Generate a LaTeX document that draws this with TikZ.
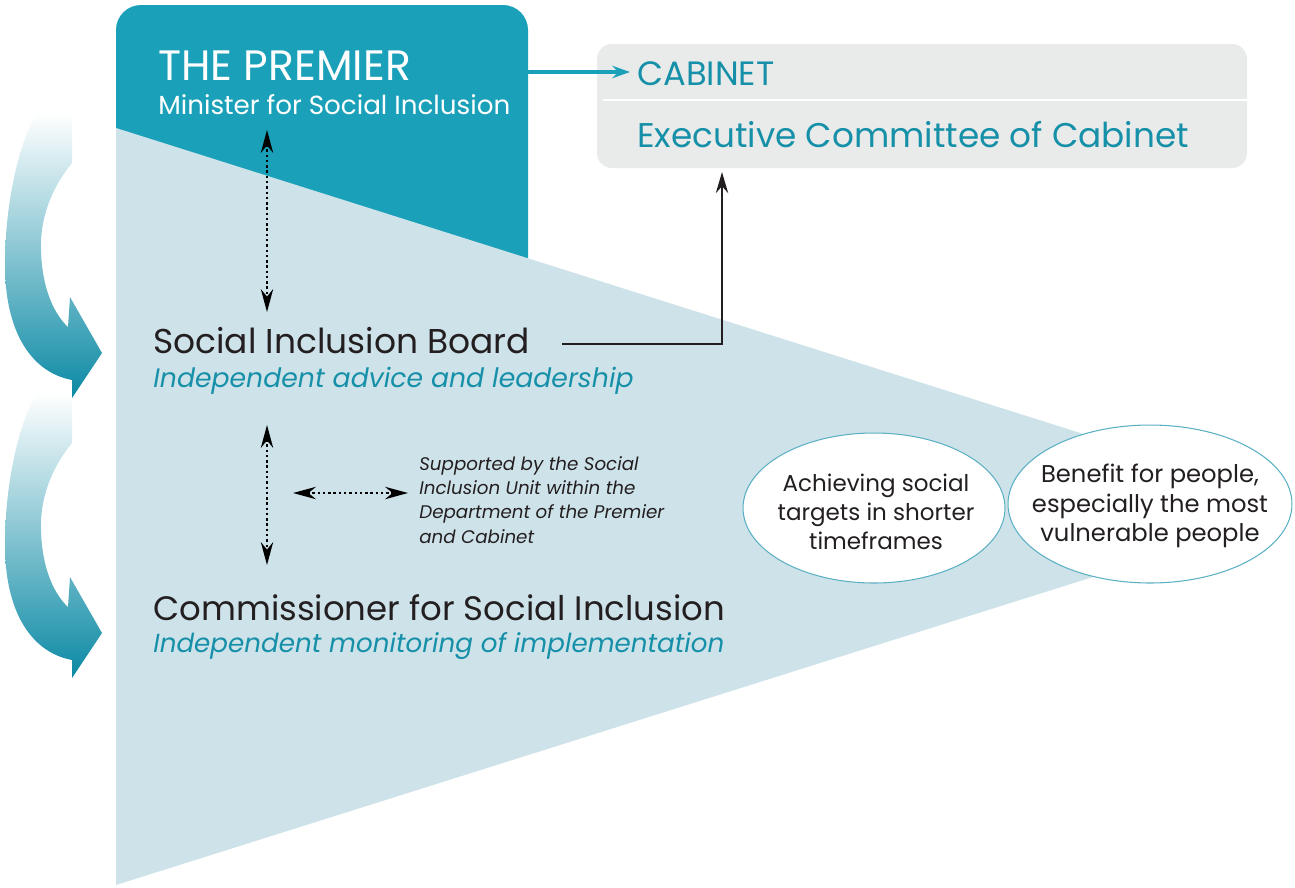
\documentclass[tikz,border=0pt]{standalone}
\usepackage{fontspec}
\setmainfont{Poppins}
\usetikzlibrary{arrows.meta, shapes.geometric}
\definecolor{premblue}{HTML}{1AA1B9}
\definecolor{wedge}{HTML}{CEE2E9}
\definecolor{cabgrey}{HTML}{E9EBEA}
\definecolor{tealtext}{HTML}{1690A8}
\definecolor{darktext}{HTML}{231F20}
\definecolor{arrowteal}{HTML}{0B89A4}
\definecolor{ellline}{HTML}{5BB0C4}

\begin{document}
\begin{tikzpicture}[x=0.02cm, y=-0.02cm]
	\tikzstyle{dots}=[dash pattern=on 1.4pt off 1.6pt, line width=1.4pt, {Stealth[length=13pt,width=7pt]}-{Stealth[length=13pt,width=7pt]}]
	\tikzstyle{txt}=[anchor=base west, inner sep=0pt, text=darktext]
	\tikzstyle{sub}=[anchor=base west, inner sep=0pt, text=tealtext]
	\tikzstyle{aim}=[ellipse, draw=ellline, fill=white, line width=0.6pt, inner sep=0pt]
	\useasboundingbox (0,0) rectangle (1295,887);
	
	%========================================================================
	% Background shapes
	\foreach \dy in {280,0}
		\shade[shift={(0,\dy)}, top color=white, bottom color=arrowteal]
			(37,113) -- (72,113) -- (72,163)
			.. controls (50,190) and (40,220) .. (41,250)
			.. controls (42,290) and (55,315) .. (68,327)
			-- (70,297) -- (102,353) -- (72,398) -- (72,380)
			.. controls (30,372) and (5,330) .. (5,265)
			.. controls (5,200) and (20,140) .. (37,113) -- cycle;
	
	\fill[premblue, rounded corners=0.5cm] (116,290) -- (116,5) -- (528,5) -- (528,290) -- cycle;
	\fill[wedge] (116,128) -- (1150,455) -- (1150,559) -- (116,885) -- cycle;
	\fill[cabgrey, rounded corners=0.3cm] (597,44) rectangle (1247,168);
	\draw[white, line width=1.5pt] (603,100) -- (1247,100);
	
	%========================================================================
	% Texts
	\node[txt, text=white, font=\fontsize{24.2}{28}\selectfont] (premier) at (158,80) {THE PREMIER};
	\node[txt, text=white, font=\fontsize{14.9}{17}\selectfont] (minister) at (158,114) {Minister for Social Inclusion};
	
	\node[txt, text=tealtext, font=\fontsize{19.2}{23}\selectfont] (cabinet) at (637,85) {CABINET};
	\node[txt, text=tealtext, font=\fontsize{19.5}{23}\selectfont] (execcom) at (637,147) {Executive Committee of Cabinet};
	
	\node[txt, font=\fontsize{19.6}{23}\selectfont] (board) at (153,353) {Social Inclusion Board};
	\node[sub, font=\itshape\fontsize{15.2}{18}\selectfont] (boardsub) at (153,387) {Independent advice and leadership};
	
	\node[txt, font=\fontsize{19.3}{23}\selectfont] (commish) at (153,620) {Commissioner for Social Inclusion};
	\node[sub, font=\itshape\fontsize{14.9}{18}\selectfont] (commishsub) at (153,652) {Independent monitoring of implementation};
	
	\node[txt, align=left, font=\itshape\fontsize{10.4}{13.7}\selectfont] (unit) at (419,543)
		{Supported by the Social\\Inclusion Unit within the\\Department of the Premier\\and Cabinet};
	
	\node[aim, minimum width=5.24cm, minimum height=3cm] (achieve) at (874,508) {};
	\node[align=center, text=darktext, font=\fontsize{13.1}{16.5}\selectfont] (achievetxt) at (876,512)
		{Achieving social\\targets in shorter\\timeframes};
	\node[aim, minimum width=5.68cm, minimum height=3.16cm] (benefit) at (1150,504) {};
	\node[align=center, text=darktext, font=\fontsize{13.8}{16.8}\selectfont] (benefittxt) at (1150,506)
		{Benefit for people,\\especially the most\\vulnerable people};
	
	%========================================================================
	% Arrows
	\coordinate (premout) at (528,72);
	\coordinate (cabin) at (630,72);
	\coordinate (boardout) at (562,344);
	\coordinate (cabbot) at (722,172);
	\coordinate (premlow) at (267,130);
	\coordinate (boardtop) at (267,312);
	\coordinate (boardlow) at (267,425);
	\coordinate (commtop) at (267,565);
	\coordinate (unitl) at (293,493);
	\coordinate (unitr) at (408,493);
	
	\draw[premblue, line width=2.2pt, -{Stealth[length=10pt,width=7pt]}] (premout) -- (cabin);
	\draw[darktext, line width=1.3pt, -{Stealth[length=12pt,width=7pt]}] (boardout) -| (cabbot);
	
	\draw[dots] (premlow) -- (boardtop);
	\draw[dots] (boardlow) -- (commtop);
	\draw[dots] (unitl) -- (unitr);
\end{tikzpicture}
\end{document}
